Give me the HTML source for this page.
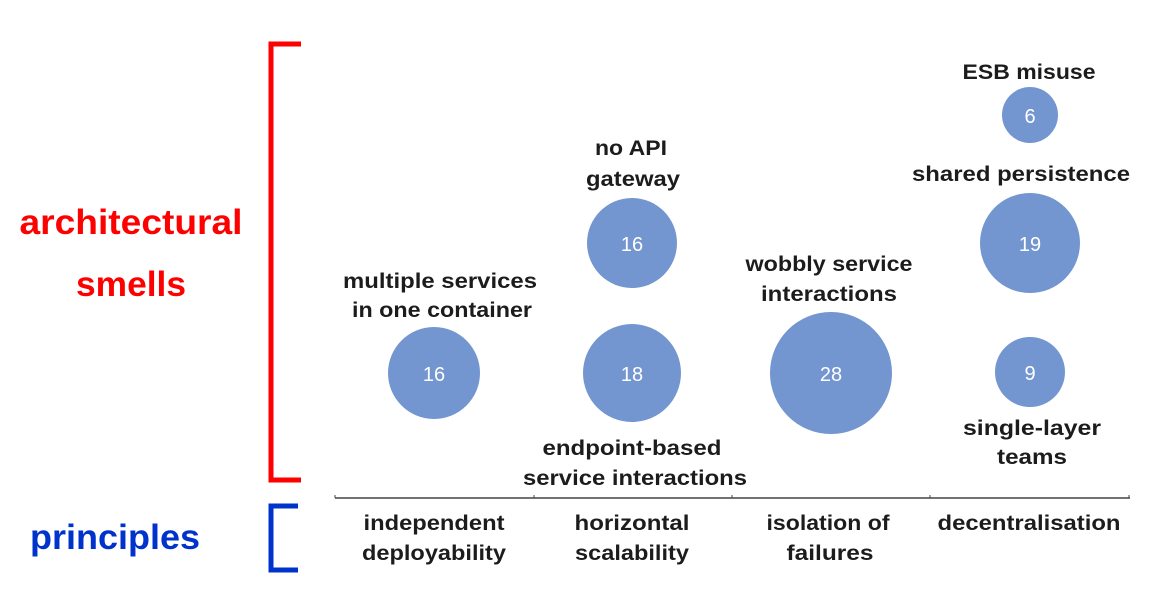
<!DOCTYPE html>
<html><head><meta charset="utf-8"><style>
html,body{margin:0;padding:0;background:#fff;}
svg{display:block;}
.t{font-family:"Liberation Sans",sans-serif;font-weight:bold;font-size:21px;fill:#1c1c1c;text-anchor:middle;}
.n{font-family:"Liberation Sans",sans-serif;font-size:20px;fill:#fff;text-anchor:middle;}
</style></head><body>
<svg width="1174" height="603" viewBox="0 0 1174 603" xmlns="http://www.w3.org/2000/svg">
<path d="M301,44 H271 V480 H301" fill="none" stroke="#ff0000" stroke-width="5"/>
<path d="M298,506 H271 V570 H298" fill="none" stroke="#0033cc" stroke-width="5"/>
<text x="131" y="234" font-family="Liberation Sans,sans-serif" font-weight="bold" font-size="35" fill="#ff0000" text-anchor="middle" textLength="223" lengthAdjust="spacingAndGlyphs">architectural</text>
<text x="131" y="296" font-family="Liberation Sans,sans-serif" font-weight="bold" font-size="35" fill="#ff0000" text-anchor="middle" textLength="110" lengthAdjust="spacingAndGlyphs">smells</text>
<text x="115" y="549" font-family="Liberation Sans,sans-serif" font-weight="bold" font-size="35" fill="#0033cc" text-anchor="middle" textLength="170" lengthAdjust="spacingAndGlyphs">principles</text>
<line x1="335" y1="498" x2="1130" y2="498" stroke="#444" stroke-width="1.5"/>
<g stroke="#444" stroke-width="1"><line x1="335" y1="495" x2="335" y2="498"/><line x1="534" y1="495" x2="534" y2="498"/><line x1="732" y1="495" x2="732" y2="498"/><line x1="930" y1="495" x2="930" y2="498"/><line x1="1129" y1="495" x2="1129" y2="498"/></g>
<g fill="#7396d0">
<circle cx="434" cy="373" r="46"/><circle cx="632" cy="243" r="45"/><circle cx="632" cy="373" r="49"/><circle cx="831" cy="373" r="61"/><circle cx="1030" cy="115" r="28"/><circle cx="1030" cy="243" r="50"/><circle cx="1030" cy="372" r="35"/>
</g>
<g class="n">
<text x="434" y="381">16</text><text x="632" y="251">16</text><text x="632" y="381">18</text><text x="831" y="381">28</text><text x="1030" y="123">6</text><text x="1030" y="251">19</text><text x="1030" y="380">9</text>
</g>
<g class="t">
<text x="440" y="288" textLength="194" lengthAdjust="spacingAndGlyphs">multiple services</text>
<text x="442" y="317" textLength="180" lengthAdjust="spacingAndGlyphs">in one container</text>
<text x="631" y="155" textLength="72" lengthAdjust="spacingAndGlyphs">no API</text>
<text x="633" y="186" textLength="94" lengthAdjust="spacingAndGlyphs">gateway</text>
<text x="632" y="455" textLength="179" lengthAdjust="spacingAndGlyphs">endpoint-based</text>
<text x="635" y="485" textLength="224" lengthAdjust="spacingAndGlyphs">service interactions</text>
<text x="829" y="271" textLength="167" lengthAdjust="spacingAndGlyphs">wobbly service</text>
<text x="829" y="301" textLength="136" lengthAdjust="spacingAndGlyphs">interactions</text>
<text x="1029" y="79" textLength="133" lengthAdjust="spacingAndGlyphs">ESB misuse</text>
<text x="1021" y="181" textLength="218" lengthAdjust="spacingAndGlyphs">shared persistence</text>
<text x="1032" y="435" textLength="138" lengthAdjust="spacingAndGlyphs">single-layer</text>
<text x="1032" y="464" textLength="70" lengthAdjust="spacingAndGlyphs">teams</text>
<text x="434" y="530" textLength="141" lengthAdjust="spacingAndGlyphs">independent</text>
<text x="434" y="560" textLength="144" lengthAdjust="spacingAndGlyphs">deployability</text>
<text x="632" y="530" textLength="115" lengthAdjust="spacingAndGlyphs">horizontal</text>
<text x="632" y="560" textLength="114" lengthAdjust="spacingAndGlyphs">scalability</text>
<text x="828" y="530" textLength="123" lengthAdjust="spacingAndGlyphs">isolation of</text>
<text x="830" y="560" textLength="87" lengthAdjust="spacingAndGlyphs">failures</text>
<text x="1029" y="530" textLength="183" lengthAdjust="spacingAndGlyphs">decentralisation</text>
</g>
</svg>
</body></html>
